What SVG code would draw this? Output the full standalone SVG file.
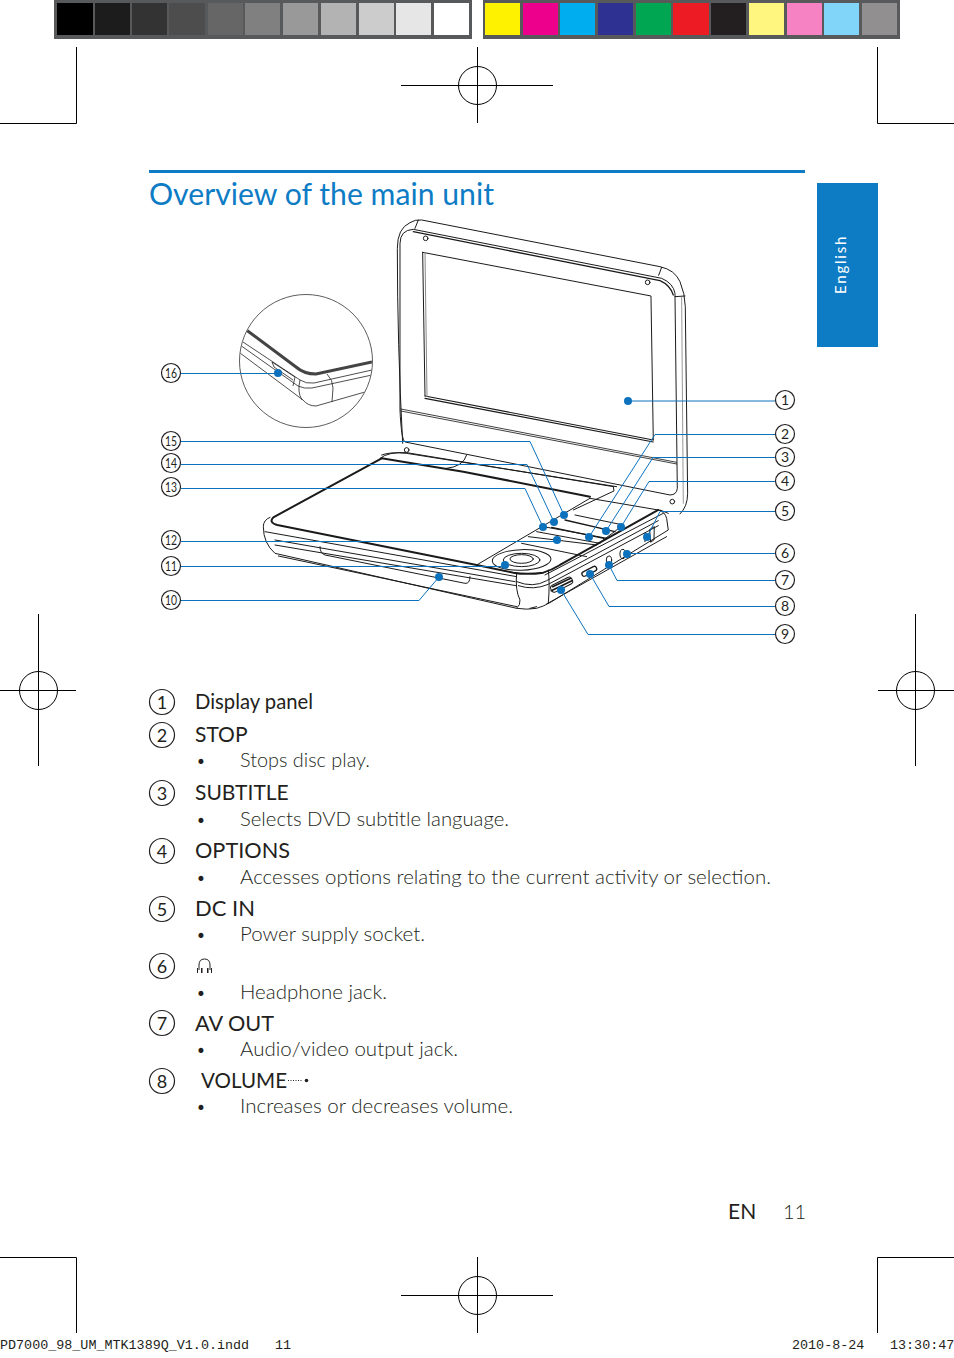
<svg xmlns="http://www.w3.org/2000/svg" width="954" height="1358" viewBox="0 0 954 1358">
<style>
text{font-family:"Lato","Open Sans","Liberation Sans",sans-serif;fill:#231f20}
.b{font-weight:300;font-size:20.500px}
.u{font-weight:300;font-size:17px}
.h{font-weight:400;font-size:21px}
.num{font-size:14px;text-anchor:middle;font-weight:400}
.lg{font-size:18px;text-anchor:middle;font-weight:400}
.m{font-family:"Liberation Mono",monospace;font-size:13.400px}
.k{stroke:#000;stroke-width:1;fill:none}
.d{fill:none;stroke:#1a1a1a;stroke-width:3;stroke-linejoin:round;stroke-linecap:round}
.t{stroke-width:6}
.l{fill:none;stroke:#0d72bd;stroke-width:1}
.dot{fill:#0d72bd}
.cc{fill:#fff;stroke:#231f20;stroke-width:1.200}
</style>
<defs><clipPath id="inset"><circle cx="306" cy="361" r="66"/></clipPath></defs>

<g id="colorbars">
<rect x="54" y="0" width="418" height="39" fill="#58595b"/>
<rect x="483" y="0" width="417" height="39" fill="#58595b"/>
<rect x="57" y="3" width="36" height="32" fill="#000"/>
<rect x="95" y="3" width="35" height="32" fill="#1c1c1c"/>
<rect x="132" y="3" width="35" height="32" fill="#333"/>
<rect x="169" y="3" width="36" height="32" fill="#4d4d4d"/>
<rect x="208" y="3" width="35" height="32" fill="#666"/>
<rect x="245" y="3" width="35" height="32" fill="#808080"/>
<rect x="283" y="3" width="35" height="32" fill="#999"/>
<rect x="321" y="3" width="35" height="32" fill="#b3b3b3"/>
<rect x="359" y="3" width="35" height="32" fill="#ccc"/>
<rect x="396" y="3" width="35" height="32" fill="#e6e6e6"/>
<rect x="434" y="3" width="35" height="32" fill="#fff"/>
<rect x="485" y="3" width="35" height="32" fill="#fff200"/>
<rect x="523" y="3" width="35" height="32" fill="#ec008c"/>
<rect x="560" y="3" width="35" height="32" fill="#00aeef"/>
<rect x="598" y="3" width="35" height="32" fill="#2e3192"/>
<rect x="636" y="3" width="35" height="32" fill="#00a651"/>
<rect x="673" y="3" width="36" height="32" fill="#ed1c24"/>
<rect x="711" y="3" width="35" height="32" fill="#231f20"/>
<rect x="749" y="3" width="35" height="32" fill="#fff67f"/>
<rect x="787" y="3" width="35" height="32" fill="#f682c4"/>
<rect x="824" y="3" width="35" height="32" fill="#80d5f9"/>
<rect x="862" y="3" width="35" height="32" fill="#918f90"/>
</g>

<g id="cropmarks" class="k">
<path class="k" d="M76.500 47V123.500H0M877.500 47V123.500H954M76.500 1333V1257.500H0M877.500 1333V1257.500H954"/>
<path class="k" d="M477.500 47V123M401 85.500H553M477.500 1257V1333M401 1295.500H553M38.500 614V766M0 690.500H76M915.500 614V766M878 690.500H954"/>
<circle class="k" cx="477.500" cy="85.500" r="19"/><circle class="k" cx="477.500" cy="1295.500" r="19"/>
<circle class="k" cx="38.500" cy="690.500" r="19"/><circle class="k" cx="915.500" cy="690.500" r="19"/>
</g>

<g id="header">
<rect x="149" y="170" width="656" height="3" fill="#0d7cc5"/>
<text x="149" y="205" style="font-size:31px;font-weight:400;fill:#0d7cc5" textLength="345" lengthAdjust="spacingAndGlyphs">Overview of the main unit</text>
</g>
<g id="language-tab">
<rect x="817" y="183" width="61" height="164" fill="#0d7cc5"/>
<text transform="translate(846 294) rotate(-90)" style="font-size:15px;font-weight:400;fill:#fff;letter-spacing:1.800px">English</text>
</g>

<g id="device-inset" clip-path="url(#inset)" fill="none" stroke="#222">
<path stroke-width="3" stroke="#444" d="M245 329L296 367Q304 374 316 374L372 362"/>
<path stroke-width=".8" d="M240 340L300 380Q306 384 314 383L372 370M240 345L298 386Q304 389 312 388L372 375M240 353L303 400Q308 406 316 406L372 390"/>
<path stroke-width=".8" d="M327 374Q333 380 333 388L332 402M300 380Q297 392 302 400M272 362L295 377L293 386M272 362L274 367L293 380"/>
</g>
<circle id="inset-ring" cx="306" cy="361" r="66.500" fill="none" stroke="#333" stroke-width=".8"/>

<g id="device-lid" transform="translate(380 210) scale(.3333)">
<path class="d" d="M68 700Q52 400 52 115Q52 55 90 38Q105 28 125 30L840 170Q885 180 900 215Q915 250 916 290L923 850Q923 890 900 912"/>
<path class="d" d="M115 30L105 55M845 172L836 196M885 260L915 258"/>
<path class="d" d="M60 100Q60 60 100 58L845 205Q880 220 885 250L892 835Q890 855 870 855L75 696Q64 690 60 600Z"/>
<path class="d" d="M100 65L840 212Q870 225 880 255" style="stroke-width:4"/>
<path class="d" d="M128 127L813 258L820 690M128 127L135 558"/>
<path class="d" d="M135 558L820 690M135 565L820 696" style="stroke-width:3.500"/>
<path class="d" d="M135 127L141 560" style="stroke:#888"/>
<path class="d" d="M62 597L890 757M62 603L890 762" style="stroke-width:2.500"/>
<path class="d" d="M905 262L910 880" style="stroke:#999"/>
<path class="d" d="M0 745Q25 725 80 728L700 830"/>
<path class="d" d="M260 735Q250 770 200 775M700 830L702 843L580 900"/>
<circle class="d" cx="137" cy="85" r="7"/><circle class="d" cx="803" cy="217" r="7"/><circle class="d" cx="877" cy="875" r="7"/><circle class="d" cx="80" cy="720" r="7"/>
</g>

<g id="device-base" transform="translate(250 430) scale(.3333)">
<path class="d t" d="M395 85L70 262Q55 278 82 285L680 405L790 428Q830 435 880 428Q905 420 930 405L1225 240"/>
<path class="d t" d="M395 85L640 125L1020 200"/>
<path class="d" d="M395 75Q420 65 470 70L1100 170M1020 205L1225 240Q1245 245 1250 265L1255 300L905 515Q880 530 860 535Q830 540 800 535L75 370Q40 340 40 290Q40 270 60 262"/>
<path class="d" d="M1020 205L680 405"/>
<path class="d" d="M975 255L1120 285M860 305L1050 340M835 320L1040 345M815 340L1010 380M880 290L1072 325M1120 285L1040 345"/>
<path class="d t" d="M945 270L1095 305M905 292L1062 325" style="stroke-width:4"/>
<ellipse class="d" cx="815" cy="390" rx="88" ry="31" transform="rotate(-2 815 390)"/>
<ellipse class="d" cx="815" cy="390" rx="55" ry="20"/>
<ellipse class="d" cx="815" cy="387" rx="35" ry="13"/>
<path class="d" d="M45 305L800 440M75 330L795 455M75 345L798 467M85 378L800 530"/>
<path class="d" d="M210 350Q210 370 225 375L645 460Q660 462 660 440"/>
<path class="d" d="M800 430Q795 480 810 510Q812 525 800 535M800 455Q850 475 890 452L1225 272M805 467Q850 482 895 463L1225 287M885 435L1240 250M890 522L1250 320"/>
<path class="d" d="M895 420Q900 460 895 520M1230 240L1255 250"/>
<path class="d t" d="M908 470L962 445M904 482L966 452" style="stroke-width:5"/>
<rect class="d" x="900" y="453" width="70" height="22" rx="9" transform="rotate(-27 935 464)"/>
<rect class="d" x="994" y="417" width="48" height="14" rx="7" transform="rotate(-27 1018 424)" style="stroke-width:4"/>
<ellipse class="d" cx="1077" cy="390" rx="8" ry="12"/>
<ellipse class="d" cx="1119" cy="372" rx="9" ry="14"/>
<path class="d" d="M1200 298L1213 290L1212 330L1203 336ZM1185 310L1185 335"/>
<path class="d" d="M840 535L860 530"/>
</g>

<g id="connectors">
<path class="l" d="M628 401H775M775 434.500H655L589 537M775 457.500H653L606 531M775 481.500H649L621 527M775 511.500H660L647 537M775 553.500H627M775 580.500H617L609 565M775 606.500H609L590 574M775 634.500H588L561 590"/>
<path class="l" d="M181 600.500H419L439 577M181 566.500H505M181 541.500H557M181 488.500H525L543 527M181 464.500H527L554 522M181 441.500H530L564 515M181 373.500H278"/>
</g>

<g id="anchors">
<circle class="dot" cx="628" cy="401" r="4"/><circle class="dot" cx="589" cy="537" r="4"/><circle class="dot" cx="606" cy="531" r="4"/><circle class="dot" cx="621" cy="527" r="4"/><circle class="dot" cx="647" cy="537" r="4"/><circle class="dot" cx="627" cy="554" r="4"/><circle class="dot" cx="609" cy="565" r="4"/><circle class="dot" cx="590" cy="574" r="4"/><circle class="dot" cx="561" cy="590" r="4"/><circle class="dot" cx="439" cy="577" r="4"/><circle class="dot" cx="505" cy="565" r="4"/><circle class="dot" cx="557" cy="540" r="4"/><circle class="dot" cx="543" cy="527" r="4"/><circle class="dot" cx="554" cy="522" r="4"/><circle class="dot" cx="564" cy="515" r="4"/><circle class="dot" cx="278" cy="373" r="4"/>
</g>

<g id="callout-1"><circle class="cc" cx="785" cy="400" r="9.500"/><text class="num" x="785" y="405">1</text></g>
<g id="callout-2"><circle class="cc" cx="785" cy="434" r="9.500"/><text class="num" x="785" y="439">2</text></g>
<g id="callout-3"><circle class="cc" cx="785" cy="457" r="9.500"/><text class="num" x="785" y="462">3</text></g>
<g id="callout-4"><circle class="cc" cx="785" cy="481" r="9.500"/><text class="num" x="785" y="486">4</text></g>
<g id="callout-5"><circle class="cc" cx="785" cy="511" r="9.500"/><text class="num" x="785" y="516">5</text></g>
<g id="callout-6"><circle class="cc" cx="785" cy="553" r="9.500"/><text class="num" x="785" y="558">6</text></g>
<g id="callout-7"><circle class="cc" cx="785" cy="580" r="9.500"/><text class="num" x="785" y="585">7</text></g>
<g id="callout-8"><circle class="cc" cx="785" cy="606" r="9.500"/><text class="num" x="785" y="611">8</text></g>
<g id="callout-9"><circle class="cc" cx="785" cy="634" r="9.500"/><text class="num" x="785" y="639">9</text></g>
<g id="callout-10"><circle class="cc" cx="171" cy="600" r="9.500"/><text class="num" x="171" y="605" textLength="12" lengthAdjust="spacingAndGlyphs">10</text></g>
<g id="callout-11"><circle class="cc" cx="171" cy="566" r="9.500"/><text class="num" x="171" y="571" textLength="12" lengthAdjust="spacingAndGlyphs">11</text></g>
<g id="callout-12"><circle class="cc" cx="171" cy="540" r="9.500"/><text class="num" x="171" y="545" textLength="12" lengthAdjust="spacingAndGlyphs">12</text></g>
<g id="callout-13"><circle class="cc" cx="171" cy="487" r="9.500"/><text class="num" x="171" y="492" textLength="12" lengthAdjust="spacingAndGlyphs">13</text></g>
<g id="callout-14"><circle class="cc" cx="171" cy="463" r="9.500"/><text class="num" x="171" y="468" textLength="12" lengthAdjust="spacingAndGlyphs">14</text></g>
<g id="callout-15"><circle class="cc" cx="171" cy="441" r="9.500"/><text class="num" x="171" y="446" textLength="12" lengthAdjust="spacingAndGlyphs">15</text></g>
<g id="callout-16"><circle class="cc" cx="171" cy="373" r="9.500"/><text class="num" x="171" y="378" textLength="12" lengthAdjust="spacingAndGlyphs">16</text></g>

<g id="legend-1"><circle class="cc" cx="162" cy="702" r="12.500"/><text class="lg" x="162" y="708.500">1</text><text class="h" x="195" y="709" textLength="118" lengthAdjust="spacingAndGlyphs">Display panel</text></g>
<g id="legend-2"><circle class="cc" cx="162" cy="735" r="12.500"/><text class="lg" x="162" y="741.500">2</text><text class="h" x="195" y="742">STOP</text><text class="u" x="196" y="767">•</text><text class="b" x="240" y="767" textLength="130" lengthAdjust="spacingAndGlyphs">Stops disc play.</text></g>
<g id="legend-3"><circle class="cc" cx="162" cy="793" r="12.500"/><text class="lg" x="162" y="799.500">3</text><text class="h" x="195" y="800">SUBTITLE</text><text class="u" x="196" y="826">•</text><text class="b" x="240" y="826" textLength="269" lengthAdjust="spacingAndGlyphs">Selects DVD subtitle language.</text></g>
<g id="legend-4"><circle class="cc" cx="162" cy="851" r="12.500"/><text class="lg" x="162" y="857.500">4</text><text class="h" x="195" y="858" textLength="95" lengthAdjust="spacingAndGlyphs">OPTIONS</text><text class="u" x="196" y="884">•</text><text class="b" x="240" y="884" textLength="531" lengthAdjust="spacingAndGlyphs">Accesses options relating to the current activity or selection.</text></g>
<g id="legend-5"><circle class="cc" cx="162" cy="909" r="12.500"/><text class="lg" x="162" y="915.500">5</text><text class="h" x="195" y="916" textLength="60" lengthAdjust="spacingAndGlyphs">DC IN</text><text class="u" x="196" y="941">•</text><text class="b" x="240" y="941" textLength="185" lengthAdjust="spacingAndGlyphs">Power supply socket.</text></g>
<g id="legend-6"><circle class="cc" cx="162" cy="966" r="12.500"/><text class="lg" x="162" y="972.500">6</text>
<path d="M199 970V965Q199 959 204.500 959Q210 959 210 965V970" fill="none" stroke="#231f20" stroke-width="1"/><path d="M197 968h1v5h-1zM201 968h1.500v5H201zM207 968h1.500v5H207zM211 968h1v5h-1z" fill="#231f20"/>
<text class="u" x="196" y="999">•</text><text class="b" x="240" y="999" textLength="147" lengthAdjust="spacingAndGlyphs">Headphone jack.</text></g>
<g id="legend-7"><circle class="cc" cx="162" cy="1023" r="12.500"/><text class="lg" x="162" y="1029.500">7</text><text class="h" x="195" y="1031" textLength="79" lengthAdjust="spacingAndGlyphs">AV OUT</text><text class="u" x="196" y="1056">•</text><text class="b" x="240" y="1056" textLength="218" lengthAdjust="spacingAndGlyphs">Audio/video output jack.</text></g>
<g id="legend-8"><circle class="cc" cx="162" cy="1081" r="12.500"/><text class="lg" x="162" y="1087.500">8</text><text class="h" x="201" y="1088" textLength="86" lengthAdjust="spacingAndGlyphs">VOLUME</text><text class="u" x="196" y="1113">•</text><text class="b" x="240" y="1113" textLength="273" lengthAdjust="spacingAndGlyphs">Increases or decreases volume.</text>
<path d="M288 1080.500h14" stroke="#231f20" stroke-width="1" stroke-dasharray="1 1.500" fill="none"/><circle cx="306.500" cy="1080.500" r="1.800" fill="#231f20"/></g>

<g id="footer">
<text x="728" y="1219" style="font-size:21px;font-weight:400">EN</text>
<text x="783" y="1219" style="font-size:20px;font-weight:300">11</text>
<text class="m" x="0" y="1349">PD7000_98_UM_MTK1389Q_V1.0.indd</text>
<text class="m" x="275" y="1349">11</text>
<text class="m" x="792" y="1349">2010-8-24</text>
<text class="m" x="890" y="1349">13:30:47</text>
</g>
</svg>
